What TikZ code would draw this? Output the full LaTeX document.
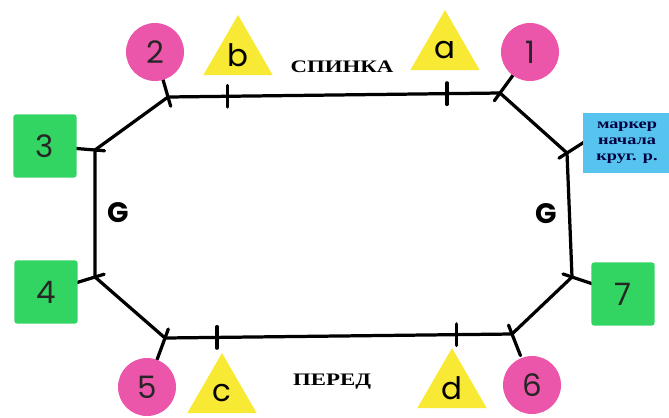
\documentclass[tikz,border=0pt]{standalone}
\usepackage{fontspec}
\usepackage{graphicx}
\setmainfont{Liberation Serif}
\newfontfamily\markfont{Poppins}
\usetikzlibrary{calc, positioning}
\usetikzlibrary{shapes.geometric}
\pgfdeclarelayer{lines}
\pgfsetlayers{lines,main}
\definecolor{pinkmark}{RGB}{236,86,170}
\definecolor{yellowmark}{RGB}{248,234,52}
\definecolor{greenmark}{RGB}{50,212,98}
\definecolor{bluemark}{RGB}{86,196,238}
\def\circd{1.45cm}
\def\tickin{0.24cm}
\def\tickout{0.58cm}
\newcommand\widetext[1]{\scalebox{1.3}[1]{#1}}
\tikzset{
    circlemark/.style = {
        circle, fill=pinkmark, minimum size=\circd, inner sep=0pt, text=black!85,
        font=\markfont\fontsize{22}{22}\selectfont
    },
    trianglemark/.style = {
        regular polygon, regular polygon sides=3, fill=yellowmark, minimum size=2cm, inner sep=0pt,
        font=\markfont\fontsize{22}{22}\selectfont
    },
    squaremark/.style = {
        rectangle, rounded corners=2pt, fill=greenmark, minimum size=1.58cm, inner sep=0pt, text=black!85,
        font=\markfont\fontsize{22}{22}\selectfont
    },
    startmark/.style = {
        rectangle, fill=bluemark, minimum width=2.2cm, minimum height=1.48cm, align=center, inner sep=0pt,
        text=black!75!blue, font=\bfseries\fontsize{10}{11.5}\selectfont
    },
    partlabel/.style = {font=\bfseries\fontsize{12.5}{13}\selectfont},
    sidelabel/.style = {font=\markfont\bfseries\fontsize{20}{20}\selectfont},
    loopline/.style = {line width=2.3pt, line join=round, line cap=round},
}

\begin{document}
\begin{tikzpicture}[x=0.025cm, y=-0.025cm]
        \useasboundingbox (0,0) rectangle (669,417);
        % Corners of the loop
        \coordinate (c1) at (500,93);
        \coordinate (cs) at (567,153);
        \coordinate (c7) at (572,277);
        \coordinate (c6) at (512,334);
        \coordinate (c5) at (165,338);
        \coordinate (c4) at (95,277);
        \coordinate (c3) at (95,150);
        \coordinate (c2) at (168,97);
        \coordinate (ka) at ($(c2)!0.84!(c1)$);
        \coordinate (kb) at ($(c2)!0.18!(c1)$);
        \coordinate (kc) at ($(c5)!0.15!(c6)$);
        \coordinate (kd) at ($(c5)!0.84!(c6)$);

        % Place the markers
        \node[circlemark] (m1) at (530,52) {1};
        \node[circlemark] (m2) at (155,52) {2};
        \node[squaremark] (m3) at (45,146) {3};
        \node[squaremark] (m4) at (46,292) {4};
        \node[circlemark] (m5) at (147,387) {5};
        \node[circlemark] (m6) at (532,385) {6};
        \node[squaremark] (m7) at (623,294) {7};
        \node[startmark] (ms) at (627,143) {\widetext{маркер}\\\widetext{начала}\\\widetext{круг. р.}};
        \node[trianglemark] (ta) at (445,50) {a};
        \node[trianglemark] (tb) at (238,55) {b};
        \node[trianglemark] (tc) at (222,393) {c};
        \node[trianglemark] (td) at (452,388) {d};

        % Labels
        \node[partlabel] (back) at (342,67) {\widetext{СПИНКА}};
        \node[partlabel] (front) at (332,382) {\widetext{ПЕРЕД}};
        \node[sidelabel] (gl) at (118,213) {G};
        \node[sidelabel] (gr) at (546,214) {G};

        % Draw the loop and the ticks
        \begin{pgfonlayer}{lines}
            \draw[loopline] (c1) -- (cs) -- (c7) -- (c6) -- (c5) -- (c4) -- (c3) -- (c2) -- cycle;
            \foreach \c/\m in {c1/m1, c2/m2, c3/m3, c4/m4, c5/m5, c6/m6, c7/m7, cs/ms.west}{
                \draw[loopline] ($(\c)!-\tickin!(\m)$) -- ($(\c)!\tickout!(\m)$);
            }
            \foreach \k in {ka, kb, kc, kd}{
                \draw[loopline] ([yshift=-0.27cm] \k) -- ([yshift=0.27cm] \k);
            }
        \end{pgfonlayer}
    \end{tikzpicture}
\end{document}
